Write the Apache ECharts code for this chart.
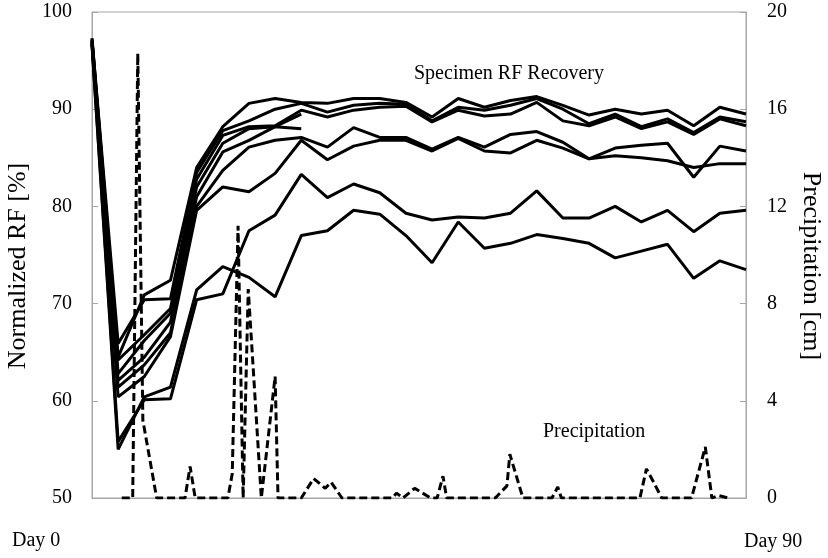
<!DOCTYPE html>
<html>
<head>
<meta charset="utf-8">
<script src="https://cdn.jsdelivr.net/npm/echarts@6/dist/echarts.min.js"></script>
<style>
html,body{margin:0;padding:0;background:#fff;}
#chart{width:828px;height:558px;}
</style>
</head>
<body>
<div id="chart"></div>
<script>
// Sample days for the RF recovery measurements
const sampleDays = [0, 3.6, 7.2, 10.8, 14.4, 18, 21.6, 25.2, 28.8, 32.4, 36, 39.6, 43.2, 46.8, 50.4, 54, 57.6, 61.2, 64.8, 68.4, 72, 75.6, 79.2, 82.8, 86.4, 90];

// Normalized RF [%] per specimen
const rfT1 = [97.3, 64.5, 70.9, 72.4, 84.0, 88.2, 90.6, 91.1, 90.7, 90.6, 91.1, 91.1, 90.7, 89.2, 91.1, 90.2, 90.9, 91.3, 90.4, 89.4, 90.0, 89.5, 89.9, 88.3, 90.2, 89.5];
const rfT2 = [97.2, 65.9, 70.4, 70.5, 83.5, 87.8, 88.8, 90.0, 90.6, 89.7, 90.4, 90.6, 90.5, 88.8, 90.2, 89.9, 90.4, 91.1, 90.0, 88.5, 89.5, 88.2, 89.0, 87.6, 89.2, 88.7];
const rfT3 = [97.1, 64.2, 66.8, 69.5, 82.8, 87.3, 88.2, 88.3, 89.9, 89.2, 89.9, 90.2, 90.3, 88.7, 89.9, 89.3, 89.5, 90.7, 88.8, 88.3, 89.2, 88.0, 88.7, 87.4, 89.0, 88.3];
const rfS1 = [97.0, 62.1, 64.5, 68.1, 81.0, 85.6, 86.8, 88.2, 88.0];
const rfS2 = [97.0, 62.8, 66.2, 69.0, 82.0, 86.5, 88.0, 88.2, 89.5];
const rfM1 = [96.9, 61.4, 63.7, 67.0, 80.0, 83.7, 86.1, 86.8, 87.1, 86.1, 88.1, 87.1, 87.1, 85.9, 87.1, 86.1, 87.4, 87.7, 86.6, 84.9, 86.0, 86.3, 86.5, 83.0, 86.2, 85.7];
const rfM2 = [96.8, 60.4, 62.5, 66.6, 79.6, 82.0, 81.5, 83.4, 86.8, 84.8, 86.2, 86.8, 86.8, 85.7, 87.0, 85.7, 85.5, 86.8, 86.0, 84.9, 85.2, 85.0, 84.7, 84.0, 84.4, 84.4];
const rfL2 = [96.7, 55.8, 60.1, 60.2, 70.4, 71.0, 77.5, 79.1, 83.3, 80.9, 82.3, 81.4, 79.3, 78.6, 78.9, 78.8, 79.3, 81.6, 78.8, 78.8, 80.0, 78.4, 79.6, 77.4, 79.3, 79.6];
const rfL1 = [96.6, 55.0, 60.4, 61.4, 71.4, 73.8, 72.7, 70.7, 77.0, 77.5, 79.6, 79.2, 77.0, 74.2, 78.4, 75.7, 76.2, 77.1, 76.7, 76.2, 74.7, 75.4, 76.1, 72.6, 74.4, 73.5];

// Precipitation [cm] by day
const precipDays = [4.1, 5.6, 6.3, 7.0, 8.9, 12.8, 13.5, 14.2, 18.7, 19.3, 20.1, 20.8, 21.5, 23.3, 25.2, 25.6, 28.8, 30.5, 32.1, 32.9, 34.4, 41.3, 41.9, 42.8, 44.4, 46.6, 47.5, 48.3, 48.8, 55.5, 57.1, 57.5, 59.3, 63.3, 64.1, 64.6, 75.4, 76.3, 77.2, 78.4, 82.5, 84.4, 85.3, 86.2, 87.6];
const precipCm = [0, 0, 18.3, 3.2, 0, 0, 1.3, 0, 0, 1.0, 11.2, 0, 8.6, 0, 5.0, 0, 0, 0.8, 0.4, 0.65, 0, 0, 0.2, 0, 0.4, 0, 0, 0.9, 0, 0, 0.5, 1.8, 0, 0, 0.45, 0, 0, 1.2, 0.7, 0, 0, 2.1, 0, 0.1, 0];

const leftTicks = [50, 60, 70, 80, 90, 100];
const rightTicks = [0, 4, 8, 12, 16, 20];
const xLabels = ['Day 0', 'Day 90'];

const FONT = 'Liberation Serif';
const AXIS_GRAY = '#a6a6a6';

function pairs(xs, ys) { return ys.map((v, i) => [xs[i], v]); }

const rfSeries = [rfT1, rfT2, rfT3, rfS1, rfS2, rfM1, rfM2, rfL2, rfL1].map(arr => ({
  type: 'line',
  data: pairs(sampleDays, arr),
  xAxisIndex: 0, yAxisIndex: 0,
  showSymbol: false, symbol: 'none',
  lineStyle: { color: '#000', width: 3 },
  silent: true, animation: false, z: 3
}));

const chart = echarts.init(document.getElementById('chart'), null, { renderer: 'canvas' });
chart.setOption({
  backgroundColor: '#fff',
  animation: false,
  textStyle: { fontFamily: FONT, color: '#000' },
  grid: { left: 92, right: 82, top: 12, bottom: 60, show: true, borderColor: AXIS_GRAY, borderWidth: 1, outerBoundsMode: 'none' },
  xAxis: [{
    type: 'value', min: 0, max: 90, interval: 90,
    axisLine: { show: true, lineStyle: { color: AXIS_GRAY, width: 1 } },
    axisTick: { show: false },
    splitLine: { show: false },
    axisLabel: { show: false }
  }],
  yAxis: [{
    type: 'value', min: leftTicks[0], max: leftTicks[leftTicks.length - 1], interval: 10,
    position: 'left',
    name: 'Normalized RF [%]', nameLocation: 'middle', nameGap: 53, nameRotate: 90,
    nameTextStyle: { fontFamily: FONT, fontSize: 26, color: '#000', padding: [0, 22, 0, 0] },
    axisLine: { show: true, lineStyle: { color: AXIS_GRAY, width: 1 } },
    axisTick: { show: true, inside: true, length: 6, lineStyle: { color: AXIS_GRAY } },
    splitLine: { show: false },
    axisLabel: { fontFamily: FONT, fontSize: 20, color: '#000', margin: 20 }
  }, {
    type: 'value', min: rightTicks[0], max: rightTicks[rightTicks.length - 1], interval: 4,
    position: 'right',
    name: 'Precipitation [cm]', nameLocation: 'middle', nameGap: 52, nameRotate: -90,
    nameTextStyle: { fontFamily: FONT, fontSize: 26, color: '#000', padding: [0, 0, 0, 22] },
    axisLine: { show: true, lineStyle: { color: AXIS_GRAY, width: 1 } },
    axisTick: { show: true, inside: true, length: 6, lineStyle: { color: AXIS_GRAY } },
    splitLine: { show: false },
    axisLabel: { fontFamily: FONT, fontSize: 20, color: '#000', margin: 21 }
  }],
  graphic: [
    { type: 'text', left: 12, top: 531, style: { text: xLabels[0], font: '20px "Liberation Serif"', fill: '#000' } },
    { type: 'text', left: 744, top: 532, style: { text: xLabels[1], font: '20px "Liberation Serif"', fill: '#000' } },
    { type: 'text', left: 414, top: 64, style: { text: 'Specimen RF Recovery', font: '20px "Liberation Serif"', fill: '#000' } },
    { type: 'text', left: 543, top: 422, style: { text: 'Precipitation', font: '20px "Liberation Serif"', fill: '#000' } }
  ],
  series: rfSeries.concat([{
    type: 'line',
    data: pairs(precipDays, precipCm),
    xAxisIndex: 0, yAxisIndex: 1,
    showSymbol: false, symbol: 'none',
    lineStyle: { color: '#000', width: 3, type: [8, 4] },
    silent: true, animation: false, z: 2
  }])
});
</script>
</body>
</html>
